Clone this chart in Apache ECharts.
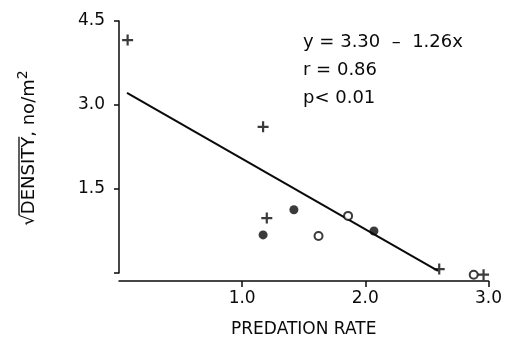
<!DOCTYPE html>
<html><head><meta charset="utf-8">
<script src="https://cdn.jsdelivr.net/npm/echarts@6/dist/echarts.min.js"></script>
<style>html,body{margin:0;padding:0;background:#fff}#c{width:505px;height:354px}</style>
</head><body><div id="c"></div>
<script>
var plusPts = [[0.07,4.16],[1.17,2.61],[1.20,0.98],[2.60,0.07],[2.96,-0.03]];
var filledPts = [[1.17,0.68],[1.42,1.13],[2.07,0.75]];
var openPts = [[1.62,0.66],[1.86,1.02],[2.88,-0.03]];
var intercept = 3.30, slope = -1.26;
var fitRange = [0.065, 2.59];
var xTicks = [1.0, 2.0, 3.0];
var yTicks = [1.5, 3.0, 4.5];
var statLines = ['y = 3.30  \u2013  1.26x', 'r = 0.86', 'p< 0.01'];
var xName = 'PREDATION RATE';

var FONT = 'DejaVu Sans, Verdana, sans-serif';
var INK = '#0a0a0a';
var fitLine = fitRange.map(function(x){ return [x, intercept + slope*x]; });

var chart = echarts.init(document.getElementById('c'), null, {renderer:'canvas'});

// measure for overline of the radical
var cv = document.createElement('canvas').getContext('2d');
var yfs = 18;
var sfs = 14;
cv.font = yfs + 'px ' + FONT;
var wRad = cv.measureText('\u221a').width;
var wDen = cv.measureText('DENSITY').width;
var wRest = cv.measureText(', no/m').width;
cv.font = sfs + 'px ' + FONT;
var wSup = cv.measureText('2').width;
var total = wRad + wDen + wRest + wSup;
var x0 = -total/2;

chart.setOption({
  animation:false,
  grid:{left:119, right:16, top:21, bottom:81},
  xAxis:{type:'value', min:0, max:3, offset:8,
    axisLine:{show:true, onZero:false, lineStyle:{color:INK, width:1.5}},
    axisTick:{show:true, customValues:xTicks, length:6, lineStyle:{color:INK, width:1.5}},
    axisLabel:{customValues:xTicks, formatter:function(v){return v.toFixed(1);}, color:INK, fontSize:17, fontFamily:FONT, margin:9},
    splitLine:{show:false},
    name:xName, nameLocation:'middle', nameGap:40,
    nameTextStyle:{color:INK, fontSize:17, fontFamily:FONT}
  },
  yAxis:{type:'value', min:0, max:4.5,
    axisLine:{show:true, lineStyle:{color:INK, width:1.5}},
    axisTick:{show:true, customValues:[0].concat(yTicks), length:5, lineStyle:{color:INK, width:1.5}},
    axisLabel:{customValues:yTicks, formatter:function(v){return v.toFixed(1);}, color:INK, fontSize:17, fontFamily:FONT, margin:14},
    splitLine:{show:false}
  },
  graphic:[
    {type:'group', x:29, y:148, rotation:Math.PI/2, children:[
      {type:'text', x:x0, y:0, style:{
        text:'\u221a{d|DENSITY}, no/m{s|2}', fill:INK, font: yfs+'px '+FONT,
        align:'left', verticalAlign:'middle',
        rich:{d:{fontSize:yfs, fontFamily:FONT, fill:INK}, s:{fontSize:sfs, fontFamily:FONT, fill:INK, padding:[0,0,12,0]}}
      }},
      {type:'line', shape:{x1:x0+wRad-1, y1:-yfs*0.5-1, x2:x0+wRad+wDen, y2:-yfs*0.5-1}, style:{stroke:INK, lineWidth:1.3}}
    ]},
    {type:'text', left:303, top:28, style:{text:statLines.join('\n'), fill:INK, font:'18px '+FONT, lineHeight:28}}
  ],
  series:[
    {type:'line', data:fitLine, symbol:'none', lineStyle:{color:INK, width:2}, z:1},
    {type:'scatter', clip:false, data:plusPts, symbol:'path://M-1,-5h2v4h4v2h-4v4h-2v-4h-4v-2h4z', symbolSize:11, itemStyle:{color:INK}},
    {type:'scatter', clip:false, data:filledPts, symbol:'circle', symbolSize:9, itemStyle:{color:INK}},
    {type:'scatter', clip:false, data:openPts, symbol:'circle', symbolSize:8, itemStyle:{color:'#fff', borderColor:INK, borderWidth:2}}
  ]
});
</script></body></html>
